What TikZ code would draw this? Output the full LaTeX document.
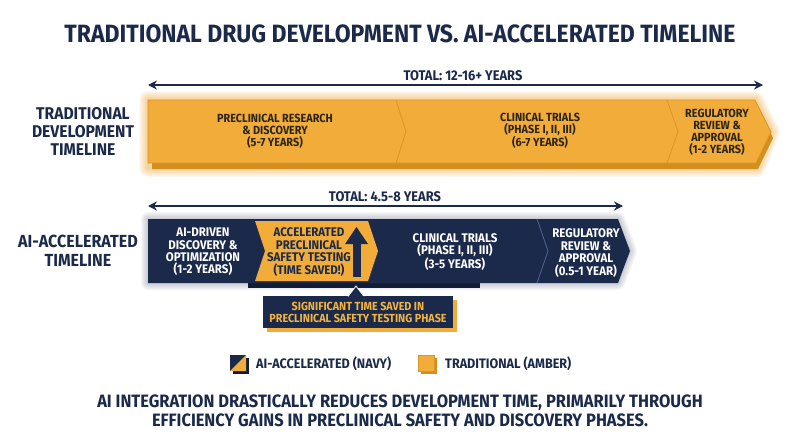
\documentclass[tikz,border=0pt]{standalone}
\usepackage{fontspec}
\usetikzlibrary{arrows.meta}
\newfontfamily\cf{Fira Sans}[FakeStretch=0.92]
\definecolor{navy}{HTML}{1B2A4A}
\definecolor{amber}{HTML}{F2AC3A}
\definecolor{amberdk}{HTML}{D48E1E}
\definecolor{amberln}{HTML}{D99526}
\definecolor{navyline}{HTML}{4B5F8E}
\definecolor{navydk}{HTML}{111C36}
\definecolor{ink}{HTML}{2A2414}
\definecolor{calltext}{HTML}{F2B440}
\tikzset{
  rowlabel/.style={font=\cf\bfseries\fontsize{17}{18}\selectfont, text=navy, align=center, inner sep=0pt},
  segamber/.style={font=\cf\bfseries\fontsize{11.8}{12}\selectfont, text=ink, align=center, inner sep=0pt},
  segnavy/.style={font=\cf\bfseries\fontsize{12.5}{12.4}\selectfont, text=white, align=center, inner sep=0pt},
  segai/.style={font=\cf\bfseries\fontsize{12.5}{12.4}\selectfont, text=navy, align=center, inner sep=0pt},
  totaltxt/.style={font=\cf\bfseries\fontsize{14}{14}\selectfont, text=navy, inner sep=0pt},
  spanarrow/.style={{Stealth[length=9pt,width=9pt]}-{Stealth[length=9pt,width=9pt]}, draw=navy, line width=1.6pt},
  legtxt/.style={font=\cf\bfseries\fontsize{13.7}{14}\selectfont, text=navy, inner sep=0pt, anchor=west},
}
\begin{document}
\begin{tikzpicture}[x=1pt,y=-1pt]
\useasboundingbox[fill=white] (0,0) rectangle (800,447);

% title
\node[font=\cf\bfseries\fontsize{25}{26}\selectfont, text=navy, inner sep=0pt] (title) at (400,34) {TRADITIONAL DRUG DEVELOPMENT VS. AI-ACCELERATED TIMELINE};

% ---------- traditional row
\node[rowlabel] (tradlabel) at (83,131) {TRADITIONAL\\DEVELOPMENT\\TIMELINE};
\coordinate (ta) at (148,85);
\coordinate (tb) at (763,85);
\draw[spanarrow] (ta) -- (tb);
\node[totaltxt] (ttotal) at (463,76) {TOTAL: 12-16+ YEARS};

% glow
\foreach \w in {2,4,...,18}
  \draw[amber, line width=\w pt, opacity=0.07, line join=round]
    (148,100) -- (755,100) -- (771,132) -- (757,168) -- (148,168) -- cycle;
% shadow strip
\fill[amberdk] (152,106) -- (757,106) -- (773,138) -- (758,169) -- (152,169) -- cycle;
% bar
\filldraw[fill=amber, draw=amberln, line width=0.8pt]
  (148,100) -- (755,100) -- (771,132) -- (756,163) -- (148,163) -- cycle;
\draw[amberln, line width=0.8pt] (396,100) -- (406,131.5) -- (396,163);
\draw[amberln, line width=0.8pt] (667,100) -- (678,131.5) -- (667,163);
\node[segamber] (t1) at (275,131) {PRECLINICAL RESEARCH\\\& DISCOVERY\\(5-7 YEARS)};
\node[segamber] (t2) at (540,131) {CLINICAL TRIALS\\(PHASE I, II, III)\\(6-7 YEARS)};
\node[segamber] (t3) at (717,132) {REGULATORY\\REVIEW \&\\APPROVAL\\(1-2 YEARS)};

% ---------- AI row
\node[rowlabel, font=\cf\bfseries\fontsize{17.5}{19}\selectfont] (ailabel) at (78,251) {AI-ACCELERATED\\TIMELINE};
\coordinate (aa) at (148,206);
\coordinate (ab) at (623,206);
\draw[spanarrow] (aa) -- (ab);
\node[totaltxt] (atotal) at (385,197) {TOTAL: 4.5-8 YEARS};

% soft shadow
\foreach \w in {2,4,...,14}
  \draw[navy!70, line width=\w pt, opacity=0.05, line join=round]
    (148,219) -- (618,219) -- (630,251) -- (618,283) -- (148,283) -- cycle;
\fill[navydk] (248,224) -- (480,224) -- (480,288) -- (248,288) -- cycle;
\fill[navy] (148,219) -- (618,219) -- (630,251) -- (618,283) -- (148,283) -- cycle;
% amber segment
\fill[amber] (255,221) -- (368,221) -- (378,251) -- (368,281) -- (255,281) -- (265,251) -- cycle;
% separator
\draw[navyline, line width=0.9pt] (537,219) -- (548,251) -- (537,283);
% big arrow
\fill[navy] (352.5,243) -- (360.5,243) -- (360.5,277) -- (352.5,277) -- cycle;
\fill[navy] (345,244) -- (356.5,227) -- (368,244) -- cycle;

\node[segnavy] (a1) at (203,252) {AI-DRIVEN\\DISCOVERY \&\\OPTIMIZATION\\(1-2 YEARS)};
\node[segai] (a2) at (309,252) {ACCELERATED\\PRECLINICAL\\SAFETY TESTING\\(TIME SAVED!)};
\node[segnavy] (a3) at (455,252) {CLINICAL TRIALS\\(PHASE I, II, III)\\(3-5 YEARS)};
\node[segnavy] (a4) at (586,253) {REGULATORY\\REVIEW \&\\APPROVAL\\(0.5-1 YEAR)};

% ---------- callout
\fill[amber] (267,300) rectangle (457,331.5);
\fill[navy] (263,296) rectangle (453,328);
\filldraw[fill=navy, draw=white, line width=0.8pt] (348,296.5) -- (356,286) -- (364,296.5);
\fill[navy] (348.5,296) -- (363.5,296) -- (363.5,299) -- (348.5,299) -- cycle;
\node[font=\cf\bfseries\fontsize{11.7}{12}\selectfont, text=calltext, align=center, inner sep=0pt] (callout) at (358,312) {SIGNIFICANT TIME SAVED IN\\PRECLINICAL SAFETY TESTING PHASE};

% ---------- legend
\fill[navydk] (233,358) rectangle (249,374);
\fill[navy] (230,355) rectangle (246,371);
\fill[amber] (246,355) -- (246,371) -- (230,371) -- cycle;
\node[legtxt] (leg1) at (256,364) {AI-ACCELERATED (NAVY)};
\fill[amberdk] (421,358) rectangle (437,374);
\fill[amber] (418,355) rectangle (434,371);
\draw[amberln, line width=0.6pt] (418,355) rectangle (434,371);
\node[legtxt] (leg2) at (445,364) {TRADITIONAL (AMBER)};

% ---------- bottom text
\node[font=\cf\bfseries\fontsize{17.9}{19.5}\selectfont, text=navy, align=center, inner sep=0pt] (summary) at (400,411) {AI INTEGRATION DRASTICALLY REDUCES DEVELOPMENT TIME, PRIMARILY THROUGH\\EFFICIENCY GAINS IN PRECLINICAL SAFETY AND DISCOVERY PHASES.};
\end{tikzpicture}
\end{document}
